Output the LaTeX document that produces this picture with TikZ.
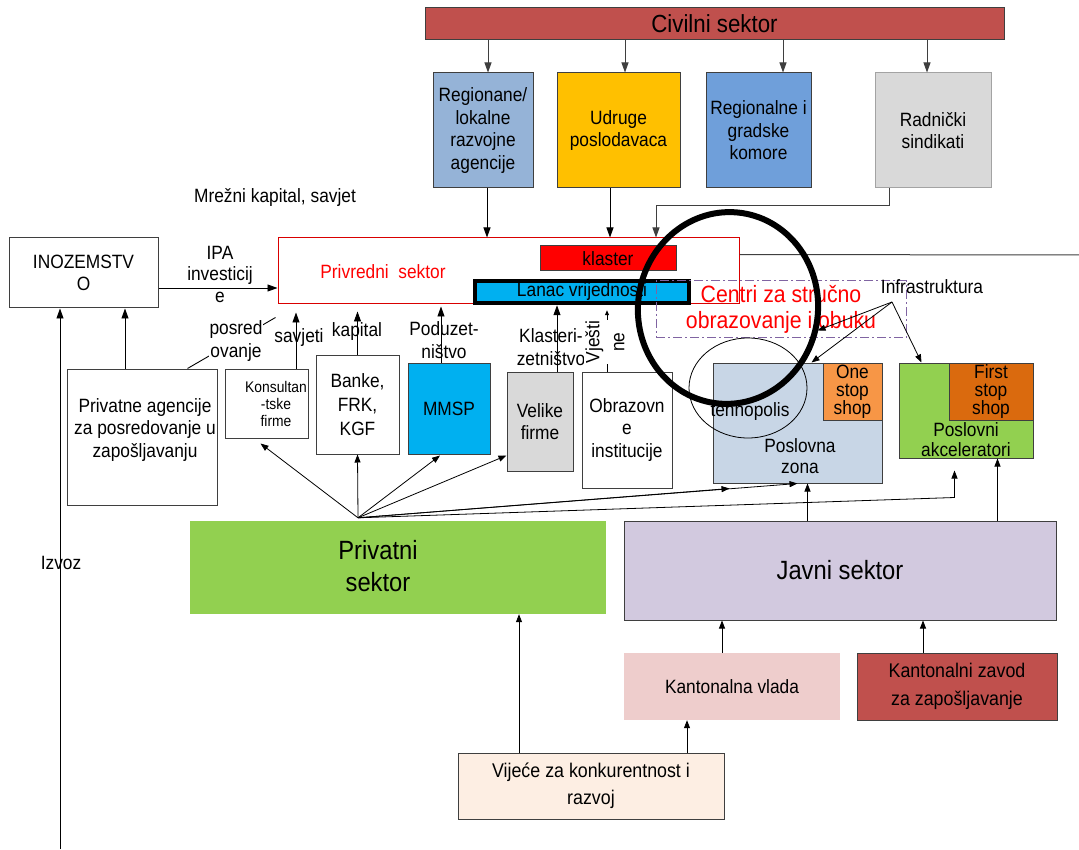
\documentclass[tikz,border=0pt]{standalone}
\usepackage{fontspec}
\setmainfont[FakeStretch=0.9]{Liberation Sans}
\usetikzlibrary{arrows.meta,shapes.geometric,calc}
\definecolor{bord}{HTML}{3F3F3F}
\definecolor{civred}{HTML}{C0504D}
\definecolor{regblue}{HTML}{95B3D7}
\definecolor{udryel}{HTML}{FFC000}
\definecolor{komblue}{HTML}{6F9FDA}
\definecolor{radgray}{HTML}{D9D9D9}
\definecolor{lanblue}{HTML}{00B0F0}
\definecolor{pzblue}{HTML}{C8D6E6}
\definecolor{ossor}{HTML}{F79646}
\definecolor{fssor}{HTML}{DA6A0E}
\definecolor{akgreen}{HTML}{92D050}
\definecolor{javni}{HTML}{D2C9DF}
\definecolor{kvpink}{HTML}{EECDCC}
\definecolor{vijcream}{HTML}{FDEEE3}
\definecolor{purp}{HTML}{8064A2}
\definecolor{txtred}{HTML}{FF0000}
\newcommand{\myfs}{\fontsize{19.25}{22.5}\selectfont}
\begin{document}
\begin{tikzpicture}[x=1pt,y=-1pt,
  box/.style={rectangle, draw=bord, line width=1pt, inner sep=0pt, align=center, font=\myfs},
  txt/.style={inner sep=0pt, align=center, font=\myfs},
  arr/.style={-{Triangle[length=10pt,width=7pt]}, line width=0.9pt, draw=black},
  sarr/.style={-{Triangle[length=8pt,width=6pt]}, line width=0.8pt, draw=black}]
\useasboundingbox (0,0) rectangle (1079,850);
\fill[white] (0,0) rectangle (1079,850);

% top
\node[box, fill=civred, minimum width=579pt, minimum height=32pt, font=\fontsize{24.75}{26}\selectfont] (civ) at (714.5,24) {Civilni sektor};
\node[box, fill=regblue, minimum width=100pt, minimum height=115pt] (reg) at (483,130.5) {Regionane/\\lokalne\\razvojne\\agencije};
\node[box, fill=udryel, minimum width=123pt, minimum height=115pt] (udr) at (618.5,130.5) {Udruge\\poslodavaca};
\node[box, fill=komblue, minimum width=105pt, minimum height=115pt] (kom) at (758.5,130.5) {Regionalne i\\gradske\\komore};
\node[box, draw=radgray!75!black, fill=radgray, minimum width=116pt, minimum height=115pt] (rad) at (933,130.5) {Radnički\\sindikati};
\node[txt] (mrez) at (275,197) {Mrežni kapital, savjet};

% privredni sektor
\node[box, draw=txtred!85!black, fill=white, minimum width=461pt, minimum height=66pt] (priv) at (508.5,271) {};
\node[txt, text=txtred] (privtxt) at (383,272) {Privredni\ \ sektor};
\node[box, fill=red, minimum width=136pt, minimum height=25pt] (klas) at (608,258.5) {klaster};
\node[box, draw=black, line width=4.5pt, fill=lanblue, minimum width=214pt, minimum height=22pt] (lanac) at (582,292) {Lanac vrijednosti};
\draw[bord, line width=1pt] ($(priv.north east)+(0,17)$) coordinate (pr1) -- (1079,255);

% Inozemstvo
\node[box, minimum width=149pt, minimum height=70pt] (ino) at (83.5,273) {INOZEMSTV\\O};
\coordinate (inoa) at ([yshift=-15pt]ino.east);
\draw[arr] (inoa) -- (inoa -| priv.west);
\node[txt, font=\fontsize{19.25}{21.5}\selectfont] (ipa) at (220,274) {IPA\\investicij\\e};

% centri
\node[rectangle, draw=purp, line width=1pt, dash pattern=on 9pt off 3pt on 2pt off 3pt, minimum width=250pt, minimum height=57pt, inner sep=0pt, align=center, text=txtred, font=\fontsize{23.6}{26}\selectfont] (cen) at (781,309.5) {Centri za stručno\\obrazovanje i obuku};
\node[txt] (infra) at (932,287) {Infrastruktura};
\coordinate (infp) at (892,302);

% poslovna zona & akceleratori
\node[box, fill=pzblue, minimum width=169pt, minimum height=120pt] (pz) at (797.5,423) {};
\node[txt, font=\fontsize{19.25}{21}\selectfont] (pztxt) at (800,456) {Poslovna\\zona};
\node[box, fill=ossor, minimum width=59pt, minimum height=57pt, font=\fontsize{19.25}{18}\selectfont] (oss) at (852.5,391.5) {One\\stop\\shop};
\node[box, fill=akgreen, minimum width=134pt, minimum height=95pt] (pak) at (966,410.5) {};
\node[txt, font=\fontsize{19.25}{20}\selectfont] (paktxt) at (966,440) {Poslovni\\akceleratori};
\node[box, fill=fssor, minimum width=84pt, minimum height=57pt, font=\fontsize{19.25}{18}\selectfont] (fss) at (991,391.5) {First\\stop\\shop};
\node[ellipse, draw=black, line width=0.8pt, minimum width=118pt, minimum height=100pt, inner sep=0pt] (teh) at (748,388) {};
\node[txt] (tehtxt) at (750,412) {tehnopolis};

% row of firms
\node[box, minimum width=150pt, minimum height=136pt] (pa) at (142,437) {};
\node[txt] (patxt) at (145,430) {Privatne agencije\\za posredovanje u\\zapošljavanju};
\node[box, minimum width=83pt, minimum height=69pt] (kons) at (266.5,403.5) {};
\node[txt, font=\fontsize{15.4}{17}\selectfont] (konstxt) at (276,404) {Konsultan\\-tske\\firme};
\node[box, minimum width=83pt, minimum height=99pt, font=\fontsize{19.25}{24}\selectfont] (ban) at (357.5,404.5) {Banke,\\FRK,\\KGF};
\node[box, fill=lanblue, minimum width=82pt, minimum height=91pt] (mmsp) at (449,408.5) {MMSP};
\node[box, fill=radgray, minimum width=66pt, minimum height=99pt] (vel) at (540,421.5) {Velike\\firme};
\node[box, minimum width=90pt, minimum height=116pt] (obr) at (627,430) {Obrazovn\\e\\institucije};

% arrows from civilni
\draw[arr, bord] ([xshift=5pt]reg.north |- civ.south) -- ([xshift=5pt]reg.north);
\draw[arr, bord] ([xshift=6.5pt]udr.north |- civ.south) -- ([xshift=6.5pt]udr.north);
\draw[arr, bord] ([xshift=24.5pt]kom.north |- civ.south) -- ([xshift=24.5pt]kom.north);
\draw[arr, bord] ([xshift=-6pt]rad.north |- civ.south) -- ([xshift=-6pt]rad.north);
% into privredni
\draw[arr] ([xshift=4pt]reg.south) -- ([xshift=4pt]reg.south |- priv.north);
\draw[arr] ([xshift=-8.5pt]udr.south) -- ([xshift=-8.5pt]udr.south |- priv.north);
\draw[arr, draw=bord] ([xshift=-44pt]rad.south) -- ++(0,17) -| ([xshift=147.5pt]priv.north);

% to inozemstvo
\coordinate (pat) at ([xshift=-17pt]pa.north);
\draw[arr] (pat) -- (pat |- ino.south);
\coordinate (izb) at (60,849);
\draw[arr] (izb) -- (izb |- ino.south);
\node[txt] (izvoz) at (61,563) {Izvoz};
\draw[line width=0.9pt] ([xshift=-30pt]pa.north east) -- ($(priv.south west)+(-2,13)$);
\node[txt, fill=white, inner sep=1pt] (posred) at (236,341) {posred\\ovanje};

% upward labelled arrows
\node[txt] (savj) at (299,338) {savjeti};
\node[txt] (kap) at (357,332) {kapital};
\node[txt] (podu) at (444,340) {Poduzet-\\ništvo};
\node[txt] (klast) at (551,347) {Klasteri-\\zetništvo};
\coordinate (kt) at ([xshift=29.5pt]kons.north);
\draw[arr, shorten >=8pt] (kt) -- (kt |- priv.south);
\draw[arr, shorten >=7pt] (ban.north) -- (ban.north |- priv.south);
\coordinate (mt) at ([xshift=-8pt]mmsp.north);
\draw[arr, shorten >=2pt] (mt) -- (mt |- priv.south);
\coordinate (vt) at ([xshift=17pt]vel.north);
\draw[arr] (vt) -- (vt |- lanac.south);
\coordinate (ot) at ([xshift=-20pt]obr.north);
\draw[-{Triangle[length=5pt,width=4pt]}, line width=0.9pt, shorten >=5pt] (ot) -- (ot |- lanac.south);
\node[txt, fill=white, inner sep=1pt, rotate=90, font=\fontsize{19.25}{25}\selectfont] (vjes) at (605,342) {Vješti\\ne};

% sectors
\node[rectangle, fill=akgreen, minimum width=416pt, minimum height=93pt, inner sep=0pt] (psek) at (398,567.5) {};
\node[txt, font=\fontsize{26.4}{32}\selectfont] (psektxt) at (378,566) {Privatni\\sektor};
\node[box, fill=javni, minimum width=432pt, minimum height=99pt, font=\fontsize{26.4}{30}\selectfont] (jsek) at (840,570.5) {Javni sektor};
\node[rectangle, fill=kvpink, minimum width=216pt, minimum height=67pt, inner sep=0pt, font=\myfs] (kv) at (732,686.5) {Kantonalna vlada};
\node[box, fill=civred, minimum width=200pt, minimum height=67pt, font=\fontsize{19.8}{28}\selectfont] (kz) at (957,686.5) {Kantonalni zavod\\za zapošljavanje};
\node[box, fill=vijcream, minimum width=266pt, minimum height=66pt, font=\fontsize{19.8}{27}\selectfont] (vij) at (591,786) {Vijeće za konkurentnost i\\razvoj};

% fan from privatni sektor
\coordinate (fan) at ($(psek.north)+(-40,-3)$);
\draw[sarr] (fan) -- ($(kons.south)+(-6,5)$);
\draw[sarr] (fan) -- (ban.south);
\draw[sarr] (fan) -- ($(mmsp.south)+(-9,1)$);
\draw[sarr] (fan) -- ($(vel.south west)+(0,-16)$);
\draw[sarr] (fan) -- ($(pz.south west)+(17,5)$);
\draw[sarr] (fan) -- (pz.south);
\draw[sarr] (fan) -- ($(pak.south west)+(56,39)$) -- ($(pak.south west)+(56,12)$);

% javni sektor arrows
\coordinate (j1) at ($(jsek.north west)+(184,0)$);
\draw[sarr] (j1) -- (j1 |- pz.south);
\coordinate (j2) at ($(jsek.north west)+(374,0)$);
\draw[sarr] (j2) -- (j2 |- pak.south);
\coordinate (k1) at ([xshift=-10pt]kv.north);
\draw[sarr] (k1) -- (k1 |- jsek.south);
\coordinate (k2) at ([xshift=-34pt]kz.north);
\draw[sarr] (k2) -- (k2 |- jsek.south);
\coordinate (v1) at ([xshift=-72pt]vij.north);
\draw[sarr] (v1) -- (v1 |- psek.south);
\coordinate (v2) at ([xshift=96pt]vij.north);
\draw[sarr] (v2) -- (v2 |- kv.south);

% infrastruktura arrows
\draw[sarr] (infp) -- ($(pz.north west)+(99,0)$);
\draw[sarr] (infp) -- ($(cen.east)+(-89,21)$);
\draw[sarr] (infp) -- ($(pak.north west)+(23,0)$);

% big ellipse
\node[ellipse, draw=black, line width=6pt, minimum width=180pt, minimum height=192pt, inner sep=0pt, rotate=-8] (bigell) at (728,308) {};
\end{tikzpicture}
\end{document}
